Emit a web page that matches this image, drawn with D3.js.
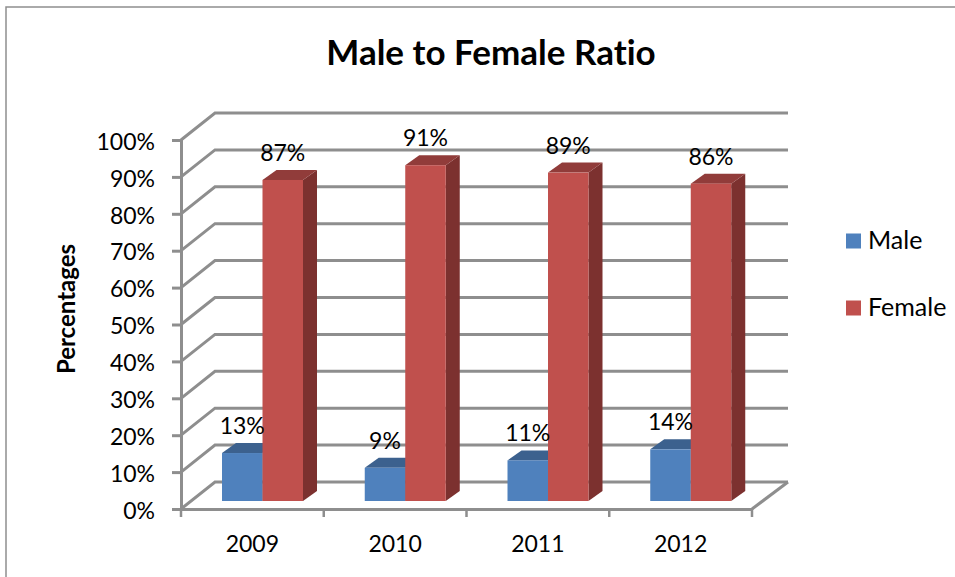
<!DOCTYPE html>
<html>
<head>
<meta charset="utf-8">
<script src="https://cdn.jsdelivr.net/npm/d3@7"></script>
<style>
html, body { margin: 0; padding: 0; background: #fff; }
svg { display: block; }
text { font-family: Lato, "Open Sans", sans-serif; fill: #000; font-variant-ligatures: none; }
</style>
</head>
<body>
<div id="chart"></div>
<script>
var years = ["2009", "2010", "2011", "2012"];
var seriesNames = ["Male", "Female"];
var male = [13, 9, 11, 14];
var female = [87, 91, 89, 86];
var yTicks = [0, 10, 20, 30, 40, 50, 60, 70, 80, 90, 100];

var width = 955, height = 577;
var colors = { Male: "#4f81bd", Female: "#c0504d" };
var tops = { Male: "#3c618e", Female: "#913c3a" };
var sides = { Male: "#355579", Female: "#7c312f" };
var gridColor = "#8e8e8e";

// the box floor runs back by this much
var wallDx = 34, wallDy = -27;
// bars stand a little way into the floor and have their own depth
var barDx = 10, barDy = -8;
var depthX = 14, depthY = -10;

var x = d3.scaleBand().domain(years).range([181, 752]);
var y = d3.scaleLinear().domain([0, 100]).range([509, 140]);
var x1 = d3.scaleBand().domain(seriesNames).range([31, 112]);

var svg = d3.select("#chart").append("svg")
	.attr("width", width)
	.attr("height", height);

// chart frame, only left and top show in the picture
svg.append("path")
	.attr("d", "M6,577V7H955")
	.attr("fill", "none")
	.attr("stroke", gridColor)
	.attr("stroke-width", 1.5);

svg.append("text")
	.attr("x", 491)
	.attr("y", 65)
	.attr("text-anchor", "middle")
	.attr("font-size", 35)
	.attr("font-weight", 700)
	.text("Male to Female Ratio");

svg.append("text")
	.attr("transform", "translate(75,309) rotate(-90)")
	.attr("text-anchor", "middle")
	.attr("font-size", 24)
	.attr("font-weight", 700)
	.text("Percentages");

// back wall and side wall gridlines
var grid = svg.append("g")
	.attr("fill", "none")
	.attr("stroke", gridColor)
	.attr("stroke-width", 3);
yTicks.forEach(function (t) {
	var left = x.range()[0], right = x.range()[1];
	grid.append("polyline")
		.attr("points", [
			[left, y(t)],
			[left + wallDx, y(t) + wallDy],
			[right + wallDx + 2, y(t) + wallDy]
		].join(" "));
});
// floor, right edge
grid.append("line")
	.attr("x1", x.range()[1])
	.attr("y1", y(0))
	.attr("x2", x.range()[1] + wallDx + 2)
	.attr("y2", y(0) + wallDy);

var yAxis = d3.axisLeft(y)
	.tickValues(yTicks)
	.tickFormat(function (d) { return d + "%"; })
	.tickSize(9)
	.tickPadding(17);
var gy = svg.append("g")
	.attr("transform", "translate(" + x.range()[0] + ",0)")
	.call(yAxis);

var xAxis = d3.axisBottom(x).tickSize(0).tickPadding(27);
var gx = svg.append("g")
	.attr("transform", "translate(0," + y(0) + ")")
	.call(xAxis);

[gy, gx].forEach(function (g) {
	g.selectAll("text").attr("font-size", 23).attr("font-family", null);
	g.selectAll("line").attr("stroke", gridColor).attr("stroke-width", 3);
	g.select(".domain").attr("stroke", gridColor).attr("stroke-width", 3);
});
gy.selectAll("text").attr("dy", "0.4em");
gx.selectAll("text").attr("dy", "0.71em");

// category separators on the x axis
gx.selectAll("line.sep")
	.data(years.concat(["end"]))
	.enter().append("line")
	.attr("class", "sep")
	.attr("x1", function (d, i) { return i < years.length ? x(d) : x.range()[1]; })
	.attr("x2", function (d, i) { return i < years.length ? x(d) : x.range()[1]; })
	.attr("y1", 0)
	.attr("y2", 8)
	.attr("stroke", gridColor)
	.attr("stroke-width", 2.5);

var rows = [];
years.forEach(function (year, i) {
	rows.push({ year: year, name: "Male", value: male[i] });
	rows.push({ year: year, name: "Female", value: female[i] });
});
function barLeft(d) { return x(d.year) + x1(d.name) + barDx; }
function barTop(d) { return y(d.value) + barDy; }
var base = y(0) + barDy;

var bars = svg.append("g");
rows.forEach(function (d) {
	var l = barLeft(d), r = l + x1.bandwidth(), t = barTop(d);
	bars.append("path")
		.attr("d", "M" + r + "," + t + "l" + depthX + "," + depthY +
			"V" + (base + depthY) + "l" + (-depthX) + "," + (-depthY) + "Z")
		.attr("fill", sides[d.name]);
	bars.append("path")
		.attr("d", "M" + l + "," + t + "l" + depthX + "," + depthY +
			"H" + (r + depthX) + "l" + (-depthX) + "," + (-depthY) + "Z")
		.attr("fill", tops[d.name]);
	bars.append("rect")
		.attr("x", l)
		.attr("y", t)
		.attr("width", x1.bandwidth())
		.attr("height", base - t)
		.attr("fill", colors[d.name]);
});

svg.append("g").selectAll("text")
	.data(rows)
	.enter().append("text")
	.attr("x", function (d) { return barLeft(d) + x1.bandwidth() / 2; })
	.attr("y", function (d) { return barTop(d) - 19; })
	.attr("text-anchor", "middle")
	.attr("font-size", 23)
	.text(function (d) { return d.value + "%"; });

var legendY = d3.scalePoint().domain(seriesNames).range([241, 308]);
var legend = svg.append("g").selectAll("g")
	.data(seriesNames)
	.enter().append("g")
	.attr("transform", function (d) { return "translate(846," + legendY(d) + ")"; });
legend.append("rect")
	.attr("y", -7.5)
	.attr("width", 15)
	.attr("height", 15)
	.attr("fill", function (d) { return colors[d]; });
legend.append("text")
	.attr("x", 22)
	.attr("y", 8)
	.attr("font-size", 25)
	.text(function (d) { return d; });
</script>
</body>
</html>
